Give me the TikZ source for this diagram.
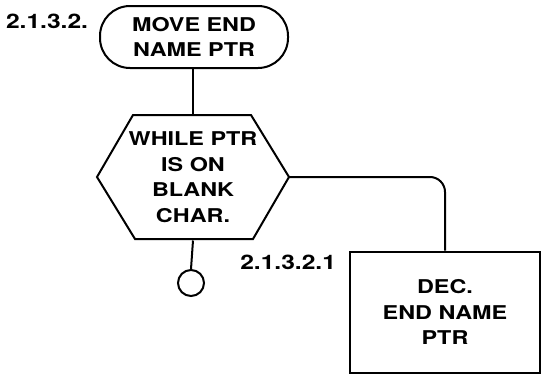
\documentclass[tikz,border=0pt]{standalone}
\usepackage{fontspec}
\setmainfont{TeX Gyre Heros}[FakeStretch=1.23]
\usetikzlibrary{positioning}

\tikzset{
  flowtext/.style = {align=center, font=\fontsize{19}{25.5}\selectfont\bfseries},
  numlabel/.style = {font=\fontsize{20}{22}\selectfont\bfseries, inner sep=0pt},
}

\begin{document}
\begin{tikzpicture}[x=1pt, y=-1pt, line width=2pt]
\useasboundingbox (0,0) rectangle (545,380);
% start of the loop
\node[flowtext, draw, rounded corners=30pt, minimum width=188pt, minimum height=62pt] (move) at (194,37) {MOVE END\\NAME PTR};
\node[numlabel, anchor=west] (movenum) at (5,21) {2.1.3.2.};
% while test
\node[flowtext, minimum width=190pt, minimum height=125pt, inner sep=0pt] (while) at (193,177) {WHILE PTR\\IS ON\\BLANK\\CHAR.};
\draw (while.west) -- ++(36,-62) -- ++(118,0) -- (while.east) -- ++(-36,62) -- ++(-118,0) -- cycle;
% loop body
\node[flowtext, draw, minimum width=190pt, minimum height=121pt] (dec) at (445,312) {DEC.\\END NAME\\PTR};
\node[numlabel, anchor=east] (decnum) at (337,262) {2.1.3.2.1};
% end of the loop
\node[draw, circle, minimum size=26pt, inner sep=0pt] (stop) at (191,283) {};
\draw (move.south -| while.north) -- (while.north);
\draw (while.south) -- (stop.north);
\draw[rounded corners=15pt] (while.east) -| (dec.north);
\end{tikzpicture}
\end{document}
